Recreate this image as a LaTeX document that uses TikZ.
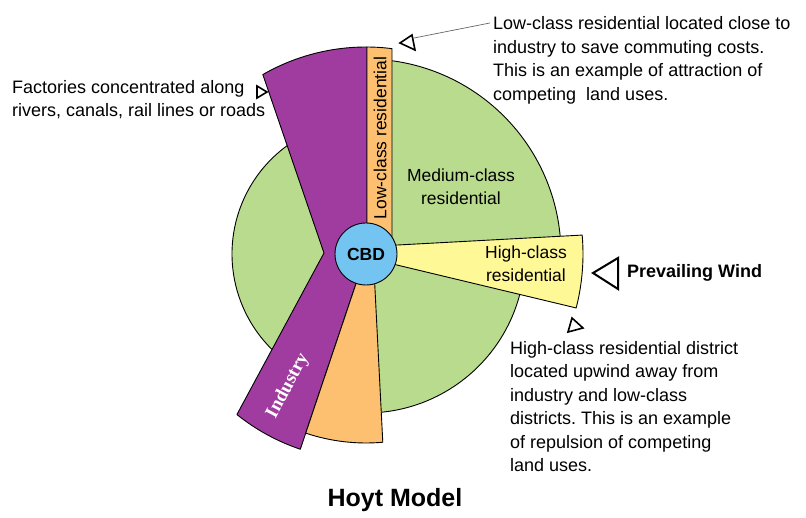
\documentclass[tikz,border=0pt]{standalone}
\usepackage{fontspec}
\setmainfont{Liberation Sans}
\newfontfamily\serifbold{Liberation Serif}
\definecolor{hgreen}{RGB}{185,219,142}
\definecolor{hpurple}{RGB}{160,60,160}
\definecolor{horange}{RGB}{252,192,112}
\definecolor{hyellow}{RGB}{255,248,150}
\definecolor{hblue}{RGB}{115,196,240}
\frenchspacing
\begin{document}
\begin{tikzpicture}[x=1pt,y=1pt, line join=round,
  zone/.style={draw=black, line width=0.9pt},
  txt/.style={font=\fontsize{18}{23.5}\selectfont, align=left, inner sep=0pt},
  lbl/.style={font=\fontsize{17.5}{22.5}\selectfont, align=center, inner sep=0pt},
  marker/.style={draw=black, line width=1.6pt, line join=miter}]
\useasboundingbox (-366,254) rectangle (440,-264);
% green sectors
\fill[hgreen] (0,0) -- (85:195) arc[start angle=85,end angle=0,radius=195] -- cycle;
\draw[zone] (82.34:195) arc[start angle=82.34,end angle=5.2,radius=195];
\fill[hgreen] (0,0) -- (-10:159) arc[start angle=-10,end angle=-88,radius=159] -- cycle;
\draw[zone] (-14.7:159) arc[start angle=-14.7,end angle=-84.4,radius=159];
\fill[hgreen] (0,0) -- (118:134) arc[start angle=118,end angle=238,radius=134] -- cycle;
\draw[zone] (126:134) arc[start angle=126,end angle=225.5,radius=134];
% industry
\draw[zone, fill=hpurple] (-42,1) -- (119.9:207) arc[start angle=119.9,end angle=89.72,radius=207] -- (1,0) -- (0,0) -- (251.4:206) arc[start angle=251.4,end angle=231.2,radius=206] -- cycle;
% low-class lower
\draw[zone, fill=horange] (0,0) -- (251.4:189) arc[start angle=251.4,end angle=275.1,radius=189] -- (7.2,0) -- cycle;
% low-class strip
\draw[zone, fill=horange] (1,0) -- (89.72:207) arc[start angle=89.72,end angle=82.78,radius=207] -- (26,0) -- cycle;
% high-class
\draw[zone, fill=hyellow] (15,8.1) -- (5:217) arc[start angle=5,end angle=-14.4,radius=217] -- (15,-7.2) -- cycle;
% CBD
\node[circle, zone, fill=hblue, minimum size=62pt, inner sep=0pt, font=\bfseries\fontsize{17.5}{17.5}\selectfont] (cbd) at (0,0) {CBD};
% labels
\node[lbl] (med) at (95,67) {Medium-class\\residential};
\node[lbl] (high) at (160,-10) {High-class\\residential};
\node[lbl, rotate=90] (low) at (14,116) {Low-class residential};
\node[font=\serifbold\bfseries\fontsize{19}{19}\selectfont, text=white, rotate=62, inner sep=0pt] (ind) at (-78,-132) {Industry};
% texts
\node[txt, anchor=west] (tlow) at (127,193.5) {Low-class residential located close to\\industry to save commuting costs.\\This is an example of attraction of\\competing\ \ land uses.};
\node[txt, anchor=west] (tfac) at (-354,154.5) {Factories concentrated along\\rivers, canals, rail lines or roads};
\node[txt, anchor=west] (thigh) at (144,-152.5) {High-class residential district\\located upwind away from\\industry and low-class\\districts. This is an example\\of repulsion of competing\\land uses.};
\node[font=\bfseries\fontsize{18}{18}\selectfont, anchor=west, inner sep=0pt] (wind) at (261,-19) {Prevailing Wind};
\node[font=\bfseries\fontsize{25}{25}\selectfont, inner sep=0pt] (title) at (29,-246) {Hoyt Model};
% markers
\draw[marker, line width=2pt] (227,-19) -- (252,-4) -- (252,-35) -- cycle;
\draw[marker] (-99,162) -- (-109,168) -- (-109,156) -- cycle;
\draw[marker] (34,211) -- (46,219) -- (49,204) -- cycle;
\draw[marker] (206,-64) -- (217,-74) -- (202,-78) -- cycle;
\coordinate (ptr) at (48,216);
\coordinate (ptrend) at (124,231);
\draw[black!60, line width=0.7pt] (ptr) -- (ptrend);
\end{tikzpicture}
\end{document}
